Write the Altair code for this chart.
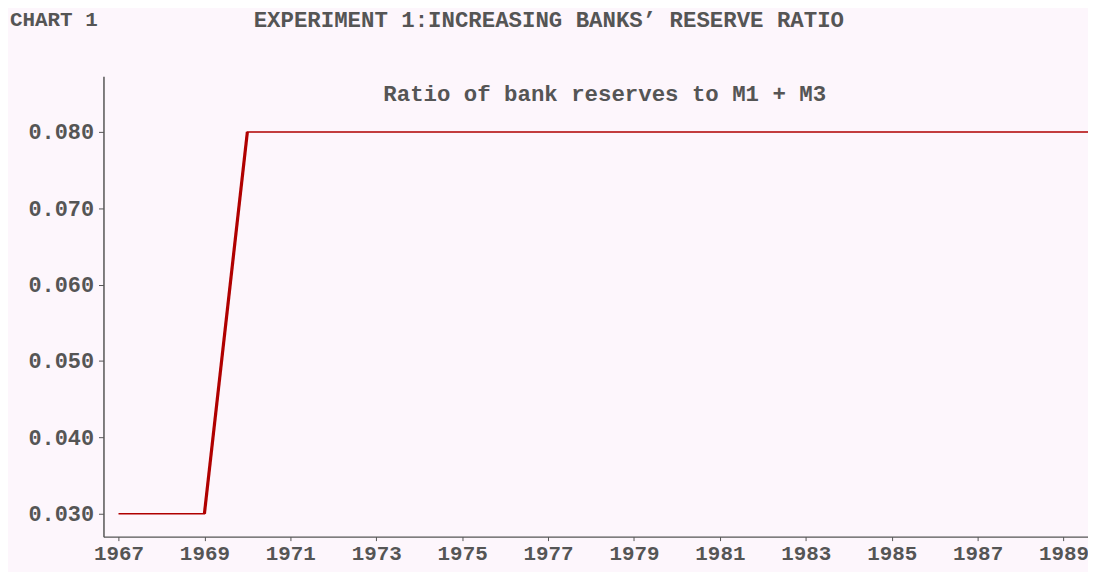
import altair as alt
import pandas as pd

# Annual series: ratio of bank reserves to M1 + M3
years = list(range(1967, 1991))
ratio = [0.030, 0.030, 0.030] + [0.080] * 21

# the step-up segment (drawn heavier, as in the reference)
ramp_years = [1969, 1970]
ramp_ratio = [0.030, 0.080]

x_ticks = list(range(1967, 1990, 2))
y_ticks = [0.030, 0.040, 0.050, 0.060, 0.070, 0.080]

chart_label = "CHART 1"
title_text = "EXPERIMENT 1:INCREASING BANKS\u2019 RESERVE RATIO"
subtitle_text = "Ratio of bank reserves to M1 + M3"

FONT = "Liberation Mono"
GREY = "#555555"
RED = "#b00000"

df = pd.DataFrame({"year": years, "ratio": ratio})
ramp = pd.DataFrame({"year": ramp_years, "ratio": ramp_ratio})

xs = alt.Scale(domain=[1966.65, 1989.57], nice=False, zero=False)
ys = alt.Scale(domain=[0.0270, 0.0873], nice=False, zero=False)

x_axis = alt.Axis(values=x_ticks, format="d", grid=False, domainColor=GREY,
                  domainWidth=1.5, tickColor=GREY, tickSize=4, labelPadding=2,
                  labelFont=FONT, labelFontSize=21, labelFontWeight="bold",
                  labelColor=GREY, title=None, labelFlush=False)
y_axis = alt.Axis(values=y_ticks, format=".3f", grid=False, domainColor=GREY,
                  domainWidth=1.5, tickColor=GREY, tickSize=5, labelPadding=5,
                  labelFont=FONT, labelFontSize=22, labelFontWeight="bold",
                  labelColor=GREY, title=None)

line = alt.Chart(df).mark_line(color=RED, strokeWidth=1.5, clip=True).encode(
    x=alt.X("year:Q", scale=xs, axis=x_axis),
    y=alt.Y("ratio:Q", scale=ys, axis=y_axis),
)

ramp_line = alt.Chart(ramp).mark_line(color=RED, strokeWidth=3.2, clip=True).encode(
    x=alt.X("year:Q", scale=xs),
    y=alt.Y("ratio:Q", scale=ys),
)

def label(text, x, y, align, size):
    return alt.Chart(pd.DataFrame({"t": [text]})).mark_text(
        font=FONT, fontSize=size, fontWeight="bold", color=GREY,
        align=align, baseline="middle"
    ).encode(text="t:N", x=alt.value(x), y=alt.value(y))

chart = alt.layer(
    line,
    ramp_line,
    label(chart_label, -94, -56, "left", 21),
    label(title_text, 151, -56, "left", 22.5),
    label(subtitle_text, 504, 18, "center", 22.5),
).properties(
    width=990,
    height=463,
    background="#fdf6fc",
    autosize=alt.AutoSizeParams(type="none"),
    padding={"left": 96, "top": 67, "right": 0, "bottom": 34},
).configure_view(stroke=None)

chart.save("out.html", embed_options={"renderer": "svg", "actions": False})
